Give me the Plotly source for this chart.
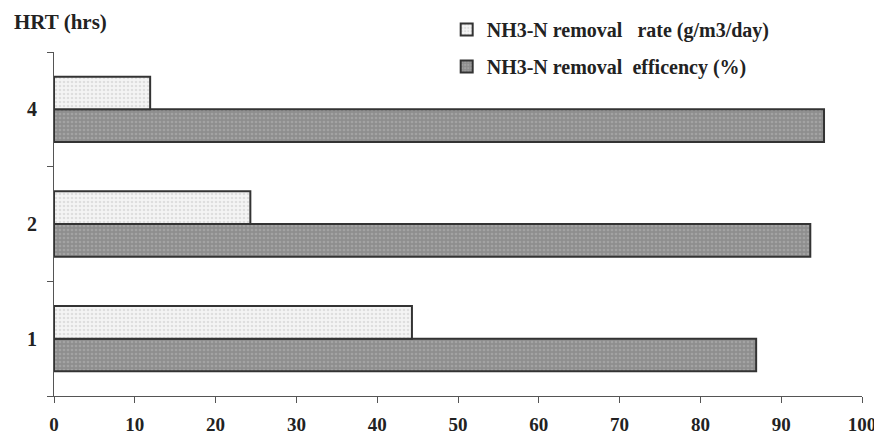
import plotly.graph_objects as go

categories = ["1", "2", "4"]
rate_values = [44.3, 24.3, 11.9]
efficiency_values = [86.9, 93.6, 95.3]
x_ticks = [0, 10, 20, 30, 40, 50, 60, 70, 80, 90, 100]

FONT = "Liberation Serif"
TXT = "#222222"

fig = go.Figure()
fig.add_trace(go.Bar(
    y=categories, x=efficiency_values, orientation="h",
    name="<b>NH3-N removal  efficency (%)</b>", legendrank=2, legendgroup="eff",
    marker=dict(color="#8e8e8e", line=dict(color="#333333", width=2),
                pattern=dict(shape=".", fgcolor="#b8b8b8", bgcolor="#8e8e8e", size=4, solidity=0.35)),
))
fig.add_trace(go.Bar(
    y=categories, x=rate_values, orientation="h",
    name="<b>NH3-N removal   rate (g/m3/day)</b>", legendrank=1, legendgroup="rate",
    marker=dict(color="#ededed", line=dict(color="#333333", width=2),
                pattern=dict(shape=".", fgcolor="#c8c8c8", bgcolor="#f4f4f4", size=4, solidity=0.35)),
))

fig.update_layout(
    width=882, height=437,
    margin=dict(l=46, r=28, t=44, b=49, autoexpand=False),
    paper_bgcolor="white", plot_bgcolor="white",
    barmode="group", bargap=0.43, bargroupgap=0,
    font=dict(family=FONT, color=TXT, size=18),
    showlegend=True,
    legend=dict(x=0.486, xanchor="left", y=1.122, yanchor="top",
                traceorder="grouped", tracegroupgap=8,
                font=dict(family=FONT, size=20, color=TXT),
                bgcolor="rgba(0,0,0,0)"),
    annotations=[dict(text="<b>HRT (hrs)</b>", xref="paper", yref="paper",
                      x=-0.052, y=1.087, xanchor="left", yanchor="middle",
                      showarrow=False, font=dict(family=FONT, size=21, color=TXT))],
)
fig.update_xaxes(range=[0, 100], tickvals=x_ticks, ticktext=[f"<b>{v}</b>" for v in x_ticks],
                 showline=True, linecolor="#555555", linewidth=1.2,
                 ticks="outside", ticklen=6, tickcolor="#555555",
                 showgrid=False, zeroline=False, automargin=False,
                 ticklabelstandoff=5,
                 tickfont=dict(family=FONT, size=19, color=TXT))
fig.update_yaxes(categoryorder="array", categoryarray=categories,
                 tickvals=categories, ticktext=[f"<b>{c}</b>" for c in categories],
                 showline=True, linecolor="#555555", linewidth=1.2,
                 ticks="outside", tickson="boundaries", ticklen=6, tickcolor="#555555",
                 showgrid=False, zeroline=False, automargin=False,
                 ticklabelstandoff=12,
                 tickfont=dict(family=FONT, size=20, color=TXT))

fig.write_html("out.html")
